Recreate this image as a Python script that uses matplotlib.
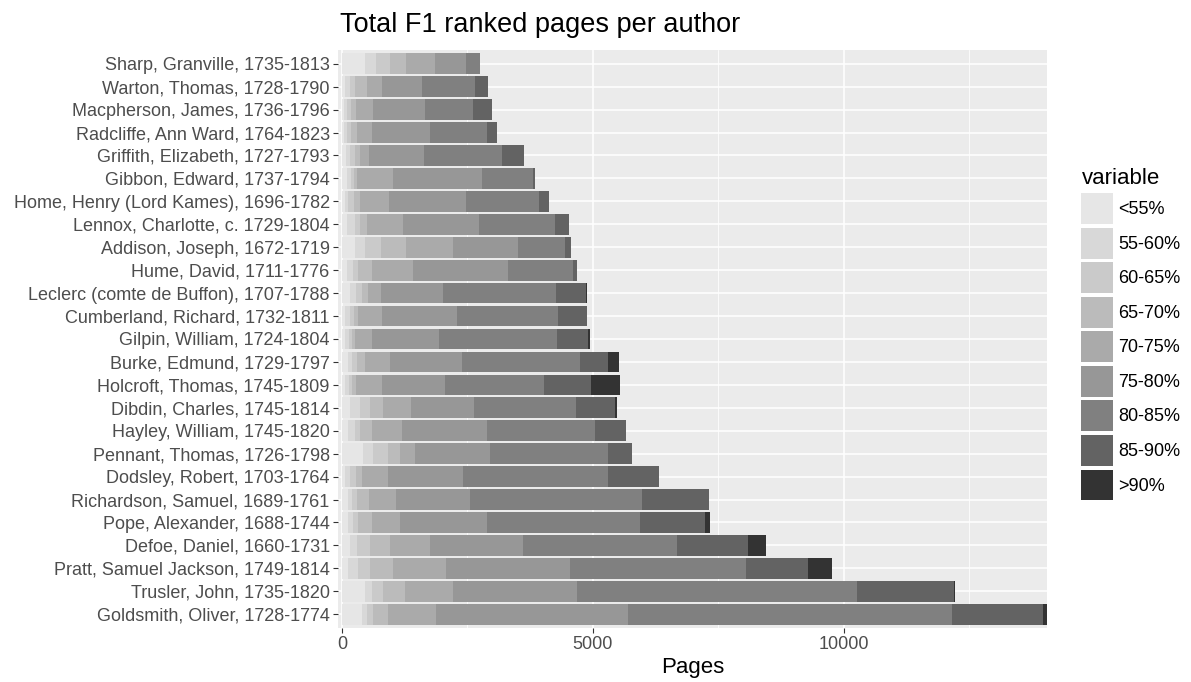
import numpy as np
import matplotlib
matplotlib.use("Agg")
import matplotlib.pyplot as plt
from matplotlib.patches import Patch

plt.rcParams['font.family'] = ['Liberation Sans', 'DejaVu Sans']

# authors, top of the chart first
authors = [
    "Sharp, Granville, 1735-1813",
    "Warton, Thomas, 1728-1790",
    "Macpherson, James, 1736-1796",
    "Radcliffe, Ann Ward, 1764-1823",
    "Griffith, Elizabeth, 1727-1793",
    "Gibbon, Edward, 1737-1794",
    "Home, Henry (Lord Kames), 1696-1782",
    "Lennox, Charlotte, c. 1729-1804",
    "Addison, Joseph, 1672-1719",
    "Hume, David, 1711-1776",
    "Leclerc (comte de Buffon), 1707-1788",
    "Cumberland, Richard, 1732-1811",
    "Gilpin, William, 1724-1804",
    "Burke, Edmund, 1729-1797",
    "Holcroft, Thomas, 1745-1809",
    "Dibdin, Charles, 1745-1814",
    "Hayley, William, 1745-1820",
    "Pennant, Thomas, 1726-1798",
    "Dodsley, Robert, 1703-1764",
    "Richardson, Samuel, 1689-1761",
    "Pope, Alexander, 1688-1744",
    "Defoe, Daniel, 1660-1731",
    "Pratt, Samuel Jackson, 1749-1814",
    "Trusler, John, 1735-1820",
    "Goldsmith, Oliver, 1728-1774",
]

categories = ["<55%", "55-60%", "60-65%", "65-70%", "70-75%",
              "75-80%", "80-85%", "85-90%", ">90%"]

# pages per category, same order as authors
lt55 = [458, 60, 40, 40, 80, 100, 60, 100, 259, 100, 159, 60, 60,
        120, 60, 159, 120, 418, 60, 120, 120, 159, 120, 458, 398]
p55_60 = [219, 100, 60, 60, 80, 80, 60, 159, 199, 120, 120, 100, 80,
          80, 80, 199, 139, 199, 100, 80, 100, 139, 199, 139, 100]
p60_65 = [279, 100, 80, 80, 100, 60, 120, 100, 319, 100, 120, 80, 60,
          100, 60, 199, 100, 299, 120, 100, 100, 259, 239, 219, 120]
p65_70 = [319, 239, 100, 120, 100, 60, 120, 139, 498, 279, 120, 80, 60,
          159, 80, 259, 239, 239, 120, 239, 279, 398, 458, 438, 299]
p70_75 = [578, 299, 339, 299, 179, 717, 578, 717, 936, 817, 259, 478, 339,
          498, 518, 558, 598, 299, 518, 538, 558, 797, 1056, 956, 956]
p75_80 = [618, 797, 1036, 1155, 1096, 1773, 1534, 1514, 1295, 1892, 1235, 1494, 1335,
          1434, 1255, 1255, 1693, 1494, 1494, 1474, 1733, 1853, 2470, 2470, 3825]
p80_85 = [279, 1056, 956, 1135, 1554, 1016, 1454, 1514, 936, 1295, 2251, 2012, 2351,
          2351, 1972, 2032, 2151, 2351, 2888, 3426, 3048, 3068, 3506, 5578, 6454]
p85_90 = [0, 259, 378, 199, 438, 40, 199, 279, 120, 80, 598, 578, 618,
          558, 936, 777, 618, 478, 1016, 1335, 1295, 1414, 1235, 1932, 1813]
gt90 = [0, 0, 0, 0, 0, 0, 0, 0, 0, 0, 20, 0, 40,
        219, 578, 40, 0, 0, 0, 0, 100, 359, 478, 20, 80]

series = [lt55, p55_60, p60_65, p65_70, p70_75, p75_80, p80_85, p85_90, gt90]
greys = ["#E6E6E6", "#D8D8D8", "#CACACA", "#BBBBBB", "#AAAAAA",
         "#979797", "#808080", "#636363", "#333333"]

fig = plt.figure(figsize=(11.91, 6.82), dpi=100)
ax = fig.add_axes([0.2838, 0.0792, 0.8791 - 0.2838, 0.9267 - 0.0792])
ax.set_facecolor("#EBEBEB")

y = np.arange(len(authors))
left = np.zeros(len(authors))
for vals, col in zip(series, greys):
    vals = np.array(vals, dtype=float)
    ax.barh(y, vals, left=left, height=0.9, color=col, linewidth=0, zorder=3)
    left += vals

ax.set_xlim(-80, 14050)
ax.set_ylim(len(authors) - 0.4, -0.6)
ax.set_yticks(y)
ax.set_yticklabels(authors)
ax.set_xticks([0, 5000, 10000])
ax.set_xticklabels(["0", "5000", "10000"])
ax.set_xticks([2500, 7500, 12500], minor=True)

ax.grid(True, which="major", color="white", linewidth=1.1, zorder=1)
ax.grid(True, which="minor", axis="x", color="white", linewidth=0.55, zorder=1)
for s in ax.spines.values():
    s.set_visible(False)
ax.tick_params(axis="both", which="major", colors="#333333", labelcolor="#4D4D4D",
               labelsize=13, length=3.5, width=0.8, pad=2.5)
ax.tick_params(axis="both", which="minor", length=0)

ax.set_xlabel("Pages", fontsize=16, color="black", labelpad=3)
ax.set_title("Total F1 ranked pages per author", fontsize=19.5, loc="left",
             x=0.003, pad=13)

handles = [Patch(facecolor=c, edgecolor="none") for c in greys]
leg = fig.legend(handles, categories, loc="upper left",
                 bbox_to_anchor=(1067 / 1191, 1 - 154 / 682),
                 frameon=False, fontsize=13, title="variable",
                 title_fontsize=16, handlelength=1.72, handleheight=2.26,
                 labelspacing=0.2, handletextpad=0.3, borderpad=0.3)
leg._legend_box.align = "left"

fig.savefig("out.png", dpi=100)
